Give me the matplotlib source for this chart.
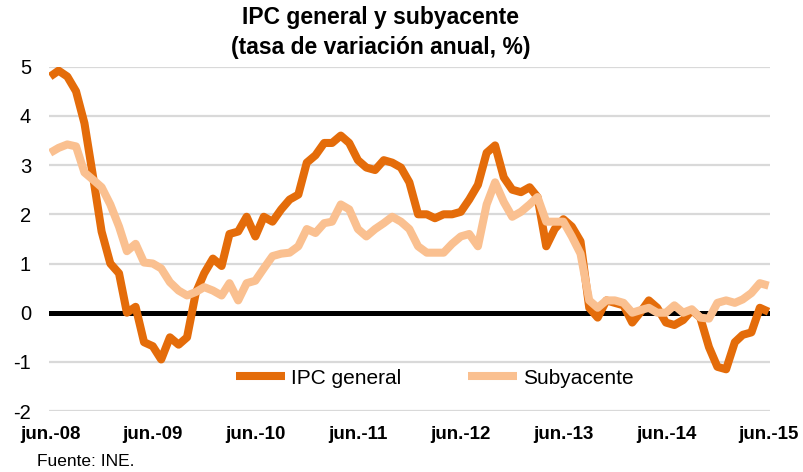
import matplotlib
matplotlib.use('Agg')
import matplotlib.pyplot as plt
import pandas as pd

plt.rcParams['font.family'] = ['Liberation Sans', 'DejaVu Sans']

# monthly data, jun-2008 .. jun-2015
months = pd.date_range('2008-06-01', '2015-06-01', freq='MS')

ipc_general = [
    4.8, 4.92, 4.8, 4.5, 3.85, 2.75, 1.65, 1.0, 0.8, 0.0, 0.12, -0.6,
    -0.68, -0.95, -0.5, -0.65, -0.5, 0.4, 0.8, 1.1, 0.95, 1.6, 1.65, 1.95,
    1.55, 1.95, 1.85, 2.1, 2.3, 2.4, 3.05, 3.2, 3.45, 3.45, 3.6, 3.45,
    3.1, 2.95, 2.9, 3.1, 3.05, 2.95, 2.65, 2.0, 2.0, 1.92, 2.0, 2.0,
    2.05, 2.3, 2.6, 3.25, 3.4, 2.75, 2.5, 2.45, 2.55, 2.35, 1.35, 1.7,
    1.9, 1.75, 1.45, 0.1, -0.1, 0.25, 0.2, 0.15, -0.2, 0.0, 0.25, 0.1,
    -0.2, -0.25, -0.15, 0.05, -0.1, -0.7, -1.1, -1.15, -0.6, -0.45, -0.4, 0.1,
    0.02,
]

subyacente = [
    3.25, 3.35, 3.42, 3.38, 2.85, 2.7, 2.55, 2.2, 1.75, 1.25, 1.4, 1.02,
    1.0, 0.9, 0.62, 0.45, 0.35, 0.42, 0.52, 0.45, 0.35, 0.6, 0.25, 0.6,
    0.65, 0.9, 1.15, 1.2, 1.22, 1.35, 1.7, 1.62, 1.82, 1.85, 2.2, 2.1,
    1.7, 1.55, 1.7, 1.82, 1.95, 1.85, 1.7, 1.35, 1.22, 1.22, 1.22, 1.4,
    1.55, 1.6, 1.35, 2.2, 2.65, 2.25, 1.95, 2.05, 2.2, 2.35, 1.85, 1.85,
    1.85, 1.55, 1.2, 0.25, 0.1, 0.25, 0.25, 0.2, 0.0, 0.05, 0.1, 0.0,
    0.0, 0.15, 0.0, 0.07, -0.1, -0.12, 0.2, 0.25, 0.2, 0.27, 0.4, 0.6,
    0.55,
]

tick_dates = pd.date_range('2008-06-01', '2015-06-01', freq='12MS')
tick_labels = ['jun.-08', 'jun.-09', 'jun.-10', 'jun.-11',
               'jun.-12', 'jun.-13', 'jun.-14', 'jun.-15']
y_ticks = [-2, -1, 0, 1, 2, 3, 4, 5]

col_ipc = '#E46C0A'
col_sub = '#FAC090'

fig = plt.figure(figsize=(8.04, 4.72), dpi=100)
ax = fig.add_axes([0.061, 0.129, 0.897, 0.7297])

ax.plot(months, ipc_general, color=col_ipc, lw=5.8, label='IPC general',
        solid_joinstyle='round', solid_capstyle='butt', zorder=3)
ax.plot(months, subyacente, color=col_sub, lw=5.8, label='Subyacente',
        solid_joinstyle='round', solid_capstyle='butt', zorder=4)
ax.axhline(0, color='black', lw=3.6, zorder=2)

ax.set_ylim(-2, 5)
ax.set_xlim(months[0] - pd.Timedelta(days=4), months[-1] + pd.Timedelta(days=6))
ax.set_yticks(y_ticks)
ax.set_yticklabels([str(v) for v in y_ticks], fontsize=14.5)
ax.set_xticks(tick_dates)
ax.set_xticklabels(tick_labels, fontsize=13.5, fontweight='bold',
                   family=['Liberation Sans Narrow', 'Liberation Sans'])
ax.tick_params(axis='both', length=0)
ax.tick_params(axis='y', pad=13)
ax.tick_params(axis='x', pad=11)
ax.grid(axis='y', color='#D9D9D9', lw=1.6, zorder=0)
for s in ax.spines.values():
    s.set_visible(False)

ax.legend(loc='center', bbox_to_anchor=(0.535, 0.096), ncol=2, frameon=False,
          fontsize=15, handlelength=2.35, handletextpad=0.3, columnspacing=3.2)

fig.text(0.473, 0.962, 'IPC general y subyacente', ha='center', va='center',
         fontsize=16.5, fontweight='bold')
fig.text(0.473, 0.9, '(tasa de variación anual, %)', ha='center', va='center',
         fontsize=16.5, fontweight='bold')
fig.text(0.046, 0.022, 'Fuente: INE.', ha='left', va='center', fontsize=12.5)

fig.savefig('out.png', dpi=100)
